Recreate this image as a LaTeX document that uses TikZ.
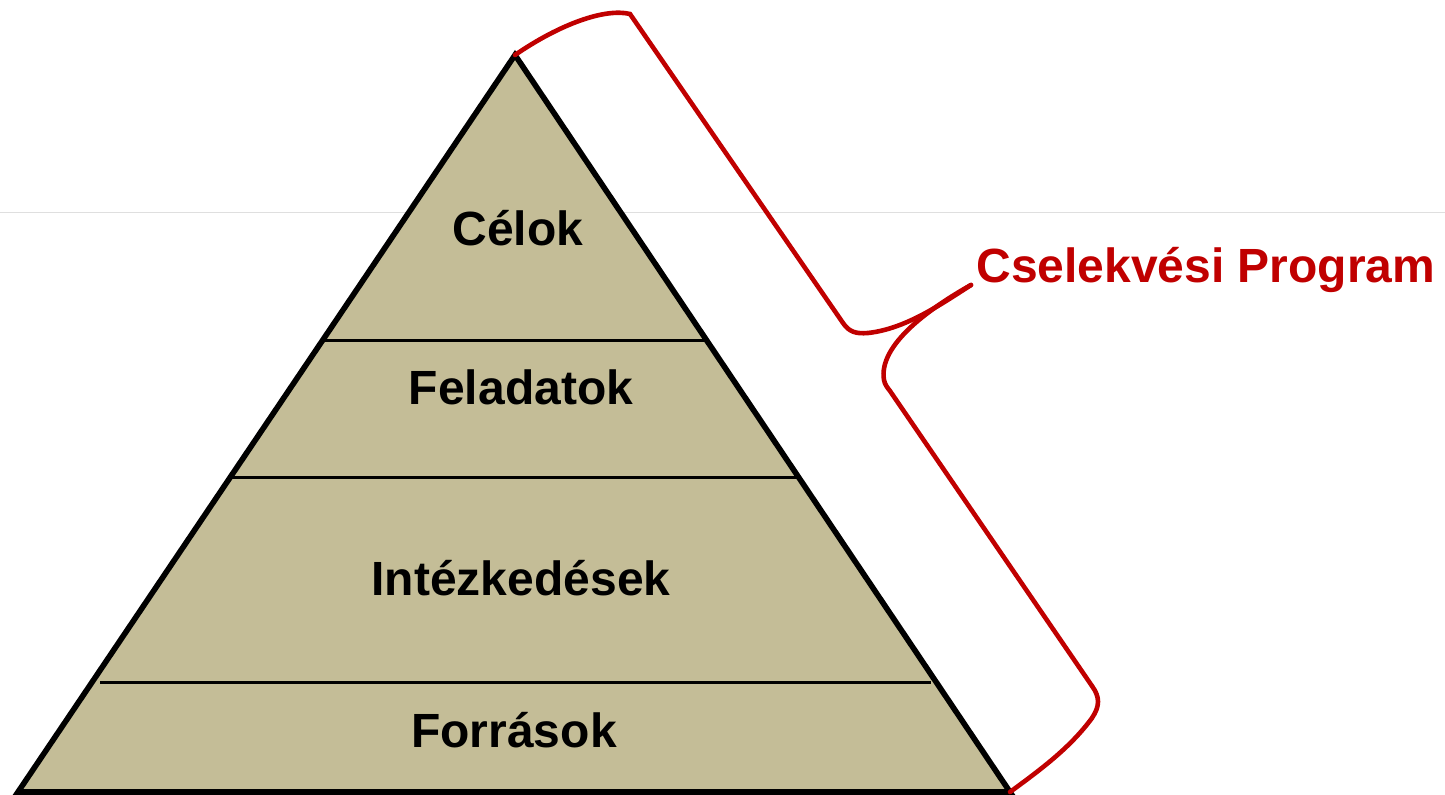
\documentclass[tikz,border=0pt]{standalone}
\usepackage{fontspec}
\setmainfont{Liberation Sans}
\definecolor{pyrfill}{HTML}{C4BD97}
\definecolor{bracered}{HTML}{C00000}
\tikzset{
  % outline of the pyramid
  pyramid/.style = {
    draw = black,
    fill = pyrfill,
    line width = 2.8pt,
    line join = miter
  },
  % horizontal division lines
  divider/.style = {
    draw = black,
    line width = 1.5pt
  },
  % text of one level
  level/.style = {
    font = \fontsize{24}{28}\selectfont\bfseries,
    inner sep = 0
  },
  % red curly brace
  brace/.style = {
    draw = bracered,
    line width = 2.3pt,
    line cap = round
  },
  brace label/.style = {
    level,
    text = bracered,
    anchor = base west
  }
}
\begin{document}
\begin{tikzpicture}[x=0.5pt, y=-0.5pt]
    \useasboundingbox (0,0) rectangle (1445,795);
    \draw[gray!25, line width=0.5pt] (0,213) -- (1445,213);

    \coordinate (apex) at (515,55);
    \coordinate (base-left) at (18,792);
    \coordinate (base-right) at (1010,792);

    \path[pyramid] (apex) -- (base-right) -- (base-left) -- cycle;

    \coordinate (goals-left) at (322,341);
    \coordinate (goals-right) at (707,341);
    \coordinate (tasks-left) at (231,478);
    \coordinate (tasks-right) at (798,478);
    \coordinate (actions-left) at (100,683);
    \coordinate (actions-right) at (931,683);

    \draw[divider] (goals-left) -- (goals-right);
    \draw[divider] (tasks-left) -- (tasks-right);
    \draw[divider] (actions-left) -- (actions-right);

    \node[level] (celok) at (518,228) {Célok};
    \node[level] (feladatok) at (521,387) {Feladatok};
    \node[level] (intezkedesek) at (521,578) {Intézkedések};
    \node[level] (forrasok) at (514,730) {Források};

    \coordinate (brace-tip) at (971,285);
    \node[brace label] (program) at (976,283) {Cselekvési Program};

    \draw[brace] (apex)
    .. controls (560,24) and (605,8) .. (630,14)
    -- (843,323)
    .. controls (849,332) and (856,334) .. (868,333)
    .. controls (905,329) and (940,305) .. (brace-tip);

    \draw[brace] (brace-tip)
    .. controls (930,308) and (878,345) .. (884,380)
    .. controls (885,385) and (887,387) .. (890,391)
    -- (1092,686)
    .. controls (1100,697) and (1100,706) .. (1092,718)
    .. controls (1070,748) and (1040,770) .. (base-right);
\end{tikzpicture}
\end{document}
